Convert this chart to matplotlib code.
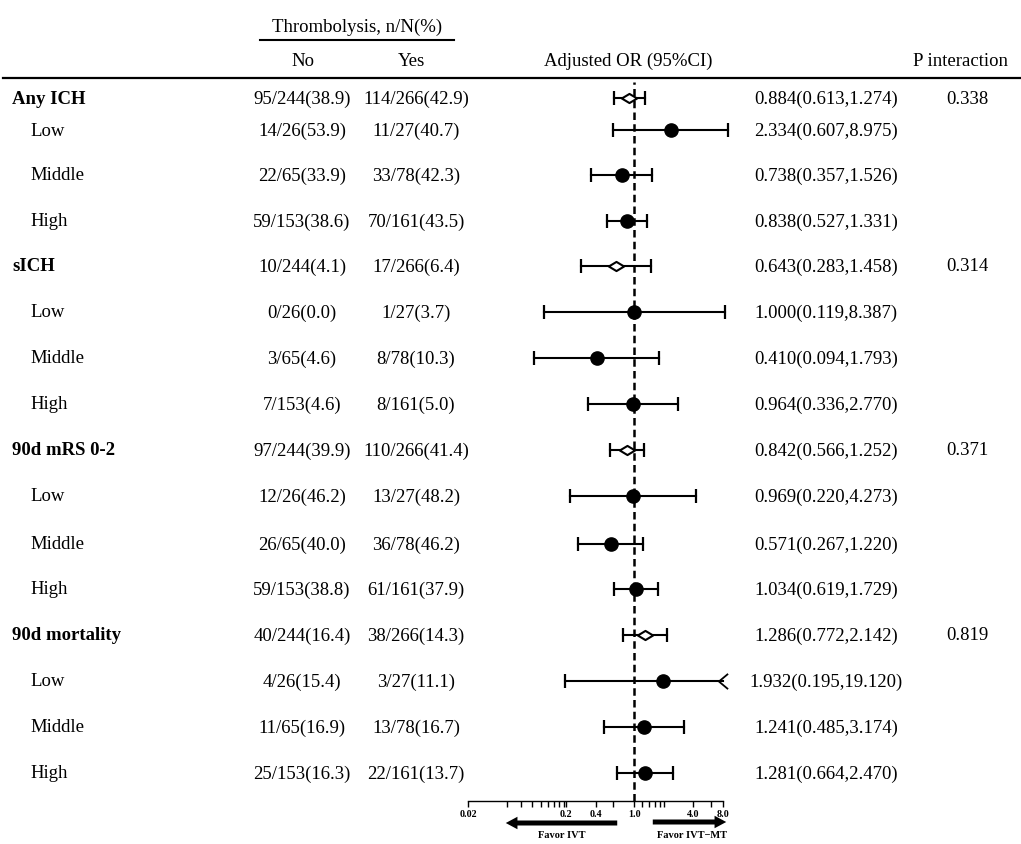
import matplotlib.pyplot as plt
import numpy as np
from matplotlib.path import Path

plt.rcParams['font.family'] = ['Liberation Serif', 'DejaVu Serif']

# ---- data ----
row_labels = ["Any ICH", "Low", "Middle", "High",
              "sICH", "Low", "Middle", "High",
              "90d mRS 0-2", "Low", "Middle", "High",
              "90d mortality", "Low", "Middle", "High"]
is_overall = [True, False, False, False] * 4

no_txt = ["95/244(38.9)", "14/26(53.9)", "22/65(33.9)", "59/153(38.6)",
          "10/244(4.1)", "0/26(0.0)", "3/65(4.6)", "7/153(4.6)",
          "97/244(39.9)", "12/26(46.2)", "26/65(40.0)", "59/153(38.8)",
          "40/244(16.4)", "4/26(15.4)", "11/65(16.9)", "25/153(16.3)"]
yes_txt = ["114/266(42.9)", "11/27(40.7)", "33/78(42.3)", "70/161(43.5)",
           "17/266(6.4)", "1/27(3.7)", "8/78(10.3)", "8/161(5.0)",
           "110/266(41.4)", "13/27(48.2)", "36/78(46.2)", "61/161(37.9)",
           "38/266(14.3)", "3/27(11.1)", "13/78(16.7)", "22/161(13.7)"]

or_val = [0.884, 2.334, 0.738, 0.838,
          0.643, 1.000, 0.410, 0.964,
          0.842, 0.969, 0.571, 1.034,
          1.286, 1.932, 1.241, 1.281]
or_lo = [0.613, 0.607, 0.357, 0.527,
         0.283, 0.119, 0.094, 0.336,
         0.566, 0.220, 0.267, 0.619,
         0.772, 0.195, 0.485, 0.664]
or_hi = [1.274, 8.975, 1.526, 1.331,
         1.458, 8.387, 1.793, 2.770,
         1.252, 4.273, 1.220, 1.729,
         2.142, 19.120, 3.174, 2.470]
or_txt = ["0.884(0.613,1.274)", "2.334(0.607,8.975)", "0.738(0.357,1.526)", "0.838(0.527,1.331)",
          "0.643(0.283,1.458)", "1.000(0.119,8.387)", "0.410(0.094,1.793)", "0.964(0.336,2.770)",
          "0.842(0.566,1.252)", "0.969(0.220,4.273)", "0.571(0.267,1.220)", "1.034(0.619,1.729)",
          "1.286(0.772,2.142)", "1.932(0.195,19.120)", "1.241(0.485,3.174)", "1.281(0.664,2.470)"]
p_int = ["0.338", "", "", "", "0.314", "", "", "", "0.371", "", "", "", "0.819", "", "", ""]

xticks_major = [0.02, 0.2, 0.4, 1.0, 4.0, 8.0]
xticks_minor = [0.05, 0.07, 0.09, 0.11, 0.13, 0.15, 0.17, 0.19, 0.6,
                1.2, 1.4, 1.6, 1.8, 2.0, 6.0]

# ---- layout (pixel positions, image is 1021x845) ----
W, H = 1021, 845
row_y = [99, 131, 176, 222, 267, 313, 359, 405, 451, 497, 545, 590, 636, 682, 728, 774]
xmin, xmax = 0.02, 8.0
clip_at = 10.0   # CIs wider than this get an open arrow at the axis end
ax_left, ax_right, ax_top, ax_bot = 468, 723, 80, 802
fs = 13.5

fig = plt.figure(figsize=(W / 100, H / 100), dpi=100)

# background axes in pixel coords for the table text
bg = fig.add_axes([0, 0, 1, 1])
bg.set_xlim(0, W)
bg.set_ylim(H, 0)
bg.axis('off')

bg.text(357, 27, "Thrombolysis, n/N(%)", ha='center', va='center', fontsize=fs)
bg.plot([260, 454], [41, 41], color='black', lw=1.5)
bg.text(303, 61, "No", ha='center', va='center', fontsize=fs)
bg.text(411, 61, "Yes", ha='center', va='center', fontsize=fs)
bg.text(628, 61, "Adjusted OR (95%CI)", ha='center', va='center', fontsize=fs)
bg.text(1008, 61, "P interaction", ha='right', va='center', fontsize=fs)
bg.plot([3, W], [79, 79], color='black', lw=1.6)

for i, y in enumerate(row_y):
    if is_overall[i]:
        bg.text(12, y, row_labels[i], ha='left', va='center', fontsize=fs, fontweight='bold')
    else:
        bg.text(30, y, row_labels[i], ha='left', va='center', fontsize=fs)
    bg.text(302, y, no_txt[i], ha='center', va='center', fontsize=fs)
    bg.text(416, y, yes_txt[i], ha='center', va='center', fontsize=fs)
    bg.text(826, y, or_txt[i], ha='center', va='center', fontsize=fs)
    if p_int[i]:
        bg.text(967, y, p_int[i], ha='center', va='center', fontsize=fs)

# forest axes
ax = fig.add_axes([ax_left / W, 1 - ax_bot / H, (ax_right - ax_left) / W, (ax_bot - ax_top) / H])
ax.patch.set_alpha(0)
ax.set_xscale('log')
ax.set_xlim(xmin, xmax)
ax.set_ylim(ax_bot, ax_top)
for s in ['top', 'left', 'right']:
    ax.spines[s].set_visible(False)
ax.spines['bottom'].set_linewidth(1.0)
ax.set_yticks([])
ax.set_xticks(xticks_major)
ax.set_xticklabels(["0.02", "0.2", "0.4", "1.0", "4.0", "8.0"])
ax.set_xticks(xticks_minor, minor=True)
ax.xaxis.set_minor_formatter(plt.NullFormatter())
ax.tick_params(axis='x', which='both', direction='out', length=4, width=1, pad=2,
               labelsize=7.2)
for lab in ax.get_xticklabels():
    lab.set_fontweight('bold')

ax.axvline(1.0, ymin=0, ymax=(ax_bot - 83) / (ax_bot - ax_top), color='black',
           lw=1.8, dashes=(3.0, 1.7), zorder=1)

diamond = Path([(-1, 0), (0, 0.6), (1, 0), (0, -0.6), (-1, 0)],
               [Path.MOVETO, Path.LINETO, Path.LINETO, Path.LINETO, Path.CLOSEPOLY])
open_arrow = Path([(0.6, 1), (-0.6, 0), (0.6, -1)],
                  [Path.MOVETO, Path.LINETO, Path.LINETO])

for i, y in enumerate(row_y):
    hi = or_hi[i] if or_hi[i] <= clip_at else xmax
    ax.plot([or_lo[i], hi], [y, y], color='black', lw=1.5, zorder=2, clip_on=False)
    ax.plot([or_lo[i]], [y], marker='|', ms=9.5, mew=1.6, color='black', zorder=2,
            clip_on=False)
    if or_hi[i] <= clip_at:
        ax.plot([hi], [y], marker='|', ms=9.5, mew=1.6, color='black', zorder=2,
                clip_on=False)
    else:
        ax.plot([hi], [y], marker=open_arrow, ms=11, mew=1.3, color='black',
                mfc='none', zorder=2, clip_on=False)
    if is_overall[i]:
        ax.plot([or_val[i]], [y], marker=diamond, ms=11, mew=1.5, mec='black',
                mfc='white', zorder=3)
    else:
        ax.plot([or_val[i]], [y], marker='o', ms=9.5, color='black', zorder=3)

# favour arrows under the axis
arrow_style = "simple,head_length=0.7,head_width=0.75,tail_width=0.3"
bg.annotate("", xy=(503, 824), xytext=(620, 824),
            arrowprops=dict(arrowstyle=arrow_style, color='black', mutation_scale=12, lw=0))
bg.annotate("", xy=(729, 823), xytext=(650, 823),
            arrowprops=dict(arrowstyle=arrow_style, color='black', mutation_scale=12, lw=0))
bg.text(562, 836, "Favor IVT", ha='center', va='center', fontsize=7.5, fontweight='bold')
bg.text(692, 836, "Favor IVT\u2212MT", ha='center', va='center', fontsize=7.5, fontweight='bold')

fig.savefig("out.png", dpi=100)
